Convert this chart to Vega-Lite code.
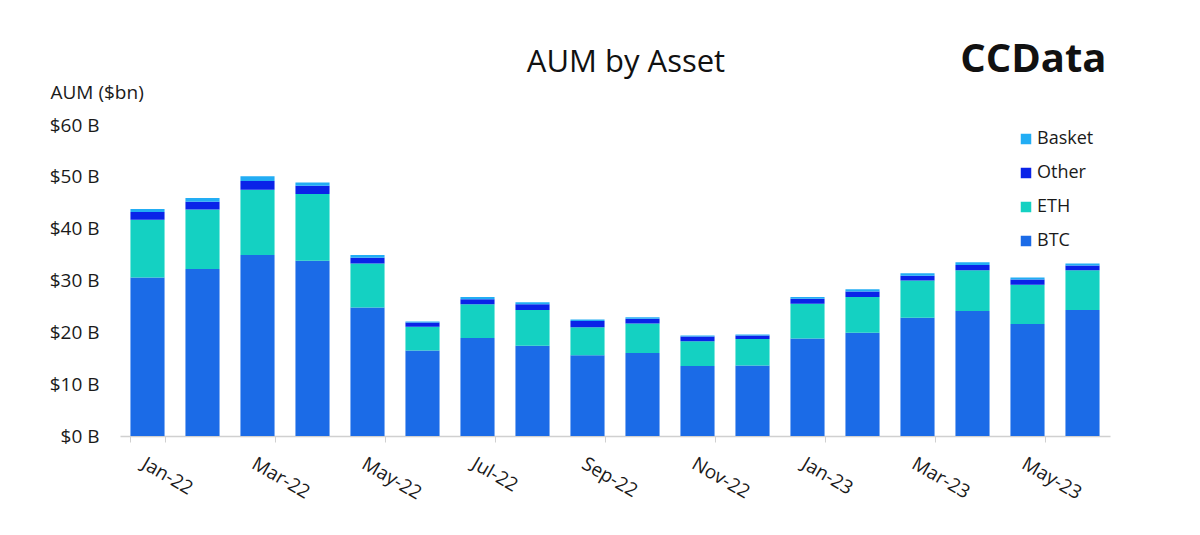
{
  "$schema": "https://vega.github.io/schema/vega-lite/v6.json",
  "autosize": {"type": "none"},
  "width": 990,
  "height": 311,
  "padding": {"left": 120, "top": 125, "right": 90, "bottom": 99},
  "background": "white",
  "config": {
    "font": "Open Sans",
    "view": {"stroke": null},
    "axis": {"labelFont": "Open Sans", "titleFont": "Open Sans", "labelColor": "#1a1a1a", "titleColor": "#1a1a1a"},
    "legend": {"labelFont": "Open Sans"}
  },
  "title": {
    "text": "AUM by Asset",
    "fontSize": 31,
    "fontWeight": "normal",
    "color": "#111",
    "anchor": "middle",
    "frame": "group",
    "offset": -39,
    "dx": 11
  },
  "data": {
    "values": [
      {"month": "Jan-22", "asset": "BTC", "aum": 30.6, "rank": 1},
      {"month": "Jan-22", "asset": "ETH", "aum": 11.1, "rank": 2},
      {"month": "Jan-22", "asset": "Other", "aum": 1.5, "rank": 3},
      {"month": "Jan-22", "asset": "Basket", "aum": 0.6, "rank": 4},
      {"month": "Feb-22", "asset": "BTC", "aum": 32.2, "rank": 1},
      {"month": "Feb-22", "asset": "ETH", "aum": 11.5, "rank": 2},
      {"month": "Feb-22", "asset": "Other", "aum": 1.5, "rank": 3},
      {"month": "Feb-22", "asset": "Basket", "aum": 0.7, "rank": 4},
      {"month": "Mar-22", "asset": "BTC", "aum": 34.9, "rank": 1},
      {"month": "Mar-22", "asset": "ETH", "aum": 12.6, "rank": 2},
      {"month": "Mar-22", "asset": "Other", "aum": 1.7, "rank": 3},
      {"month": "Mar-22", "asset": "Basket", "aum": 0.9, "rank": 4},
      {"month": "Apr-22", "asset": "BTC", "aum": 33.8, "rank": 1},
      {"month": "Apr-22", "asset": "ETH", "aum": 12.9, "rank": 2},
      {"month": "Apr-22", "asset": "Other", "aum": 1.6, "rank": 3},
      {"month": "Apr-22", "asset": "Basket", "aum": 0.6, "rank": 4},
      {"month": "May-22", "asset": "BTC", "aum": 24.8, "rank": 1},
      {"month": "May-22", "asset": "ETH", "aum": 8.5, "rank": 2},
      {"month": "May-22", "asset": "Other", "aum": 1.1, "rank": 3},
      {"month": "May-22", "asset": "Basket", "aum": 0.5, "rank": 4},
      {"month": "Jun-22", "asset": "BTC", "aum": 16.5, "rank": 1},
      {"month": "Jun-22", "asset": "ETH", "aum": 4.6, "rank": 2},
      {"month": "Jun-22", "asset": "Other", "aum": 0.8, "rank": 3},
      {"month": "Jun-22", "asset": "Basket", "aum": 0.2, "rank": 4},
      {"month": "Jul-22", "asset": "BTC", "aum": 18.9, "rank": 1},
      {"month": "Jul-22", "asset": "ETH", "aum": 6.5, "rank": 2},
      {"month": "Jul-22", "asset": "Other", "aum": 1.0, "rank": 3},
      {"month": "Jul-22", "asset": "Basket", "aum": 0.4, "rank": 4},
      {"month": "Aug-22", "asset": "BTC", "aum": 17.4, "rank": 1},
      {"month": "Aug-22", "asset": "ETH", "aum": 6.9, "rank": 2},
      {"month": "Aug-22", "asset": "Other", "aum": 1.1, "rank": 3},
      {"month": "Aug-22", "asset": "Basket", "aum": 0.4, "rank": 4},
      {"month": "Sep-22", "asset": "BTC", "aum": 15.6, "rank": 1},
      {"month": "Sep-22", "asset": "ETH", "aum": 5.4, "rank": 2},
      {"month": "Sep-22", "asset": "Other", "aum": 1.2, "rank": 3},
      {"month": "Sep-22", "asset": "Basket", "aum": 0.3, "rank": 4},
      {"month": "Oct-22", "asset": "BTC", "aum": 16.0, "rank": 1},
      {"month": "Oct-22", "asset": "ETH", "aum": 5.7, "rank": 2},
      {"month": "Oct-22", "asset": "Other", "aum": 0.9, "rank": 3},
      {"month": "Oct-22", "asset": "Basket", "aum": 0.3, "rank": 4},
      {"month": "Nov-22", "asset": "BTC", "aum": 13.5, "rank": 1},
      {"month": "Nov-22", "asset": "ETH", "aum": 4.8, "rank": 2},
      {"month": "Nov-22", "asset": "Other", "aum": 0.9, "rank": 3},
      {"month": "Nov-22", "asset": "Basket", "aum": 0.2, "rank": 4},
      {"month": "Dec-22", "asset": "BTC", "aum": 13.6, "rank": 1},
      {"month": "Dec-22", "asset": "ETH", "aum": 5.1, "rank": 2},
      {"month": "Dec-22", "asset": "Other", "aum": 0.7, "rank": 3},
      {"month": "Dec-22", "asset": "Basket", "aum": 0.2, "rank": 4},
      {"month": "Jan-23", "asset": "BTC", "aum": 18.8, "rank": 1},
      {"month": "Jan-23", "asset": "ETH", "aum": 6.7, "rank": 2},
      {"month": "Jan-23", "asset": "Other", "aum": 1.0, "rank": 3},
      {"month": "Jan-23", "asset": "Basket", "aum": 0.3, "rank": 4},
      {"month": "Feb-23", "asset": "BTC", "aum": 19.9, "rank": 1},
      {"month": "Feb-23", "asset": "ETH", "aum": 6.9, "rank": 2},
      {"month": "Feb-23", "asset": "Other", "aum": 1.1, "rank": 3},
      {"month": "Feb-23", "asset": "Basket", "aum": 0.4, "rank": 4},
      {"month": "Mar-23", "asset": "BTC", "aum": 22.8, "rank": 1},
      {"month": "Mar-23", "asset": "ETH", "aum": 7.2, "rank": 2},
      {"month": "Mar-23", "asset": "Other", "aum": 0.9, "rank": 3},
      {"month": "Mar-23", "asset": "Basket", "aum": 0.5, "rank": 4},
      {"month": "Apr-23", "asset": "BTC", "aum": 24.1, "rank": 1},
      {"month": "Apr-23", "asset": "ETH", "aum": 7.9, "rank": 2},
      {"month": "Apr-23", "asset": "Other", "aum": 1.0, "rank": 3},
      {"month": "Apr-23", "asset": "Basket", "aum": 0.5, "rank": 4},
      {"month": "May-23", "asset": "BTC", "aum": 21.6, "rank": 1},
      {"month": "May-23", "asset": "ETH", "aum": 7.6, "rank": 2},
      {"month": "May-23", "asset": "Other", "aum": 1.0, "rank": 3},
      {"month": "May-23", "asset": "Basket", "aum": 0.4, "rank": 4},
      {"month": "Jun-23", "asset": "BTC", "aum": 24.3, "rank": 1},
      {"month": "Jun-23", "asset": "ETH", "aum": 7.7, "rank": 2},
      {"month": "Jun-23", "asset": "Other", "aum": 0.9, "rank": 3},
      {"month": "Jun-23", "asset": "Basket", "aum": 0.4, "rank": 4}
    ]
  },
  "layer": [
    {
      "mark": {"type": "bar"},
      "encoding": {
        "x": {
          "field": "month",
          "type": "ordinal",
          "sort": null,
          "title": null,
          "scale": {"paddingInner": 0.38, "paddingOuter": 0.19},
          "axis": {
            "values": ["Jan-22", "Mar-22", "May-22", "Jul-22", "Sep-22", "Nov-22", "Jan-23", "Mar-23", "May-23"],
            "labelAngle": 30,
            "labelAlign": "left",
            "labelBaseline": "top",
            "labelFontSize": 19,
            "labelPadding": 12,
            "tickBand": "extent",
            "tickSize": 6,
            "tickColor": "#d0d0d0",
            "domainColor": "#d0d0d0",
            "domainWidth": 1.5,
            "grid": false
          }
        },
        "y": {
          "field": "aum",
          "type": "quantitative",
          "aggregate": "sum",
          "stack": "zero",
          "title": "AUM ($bn)",
          "scale": {"domain": [0, 60], "nice": false},
          "axis": {
            "values": [0, 10, 20, 30, 40, 50, 60],
            "labelExpr": "'$' + datum.value + ' B'",
            "labelFontSize": 19,
            "labelPadding": 21,
            "ticks": false,
            "domain": false,
            "grid": false,
            "titleAngle": 0,
            "titleAlign": "left",
            "titleBaseline": "middle",
            "titleX": -70,
            "titleY": -33,
            "titleFontSize": 19,
            "titleFontWeight": "normal"
          }
        },
        "color": {
          "field": "asset",
          "type": "nominal",
          "scale": {
            "domain": ["Basket", "Other", "ETH", "BTC"],
            "range": ["#22adf4", "#0a23e8", "#14d1c2", "#1b6be7"]
          },
          "legend": {
            "title": null,
            "orient": "none",
            "legendX": 897,
            "legendY": 5,
            "symbolType": "square",
            "symbolSize": 110,
            "symbolStrokeWidth": 0,
            "labelFontSize": 18,
            "labelColor": "#1a1a1a",
            "rowPadding": 16,
            "labelOffset": 2
          }
        },
        "order": {"field": "rank", "type": "quantitative", "sort": "ascending"}
      }
    },
    {
      "data": {"values": [{"brand": "CCData", "mx": "Jun-23", "my": 72.5}]},
      "mark": {"type": "text", "align": "right", "baseline": "middle", "fontSize": 40, "fontWeight": "bold", "font": "Open Sans", "color": "#111", "dx": 24, "clip": false},
      "encoding": {
        "x": {"field": "mx", "type": "ordinal", "sort": null},
        "y": {"field": "my", "type": "quantitative"},
        "text": {"field": "brand"}
      }
    }
  ]
}
